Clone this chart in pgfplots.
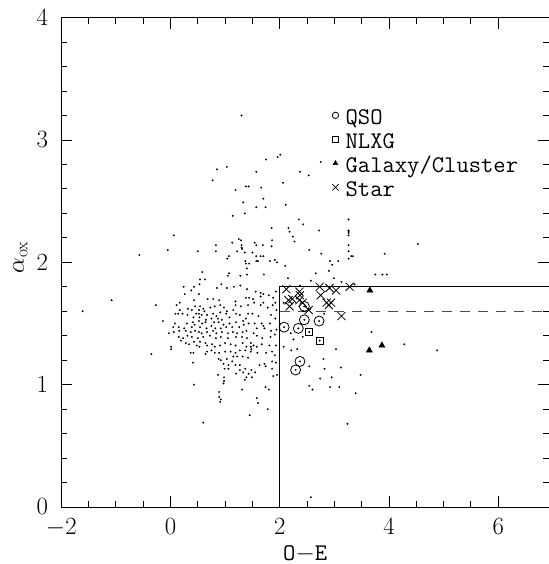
\documentclass[border=0pt]{standalone}
\usepackage{pgfplots}
\pgfplotsset{compat=1.18}
\pgfplotsset{/pgfplots/legmark/.style={legend image code/.code={\draw[##1, mark size=#1] plot coordinates {(0bp,3.5bp)};}}}
\pgfplotstableread{
x y
2.01 2.88
1.96 2.86
1.75 2.84
1.03 2.78
0.85 2.76
1.57 2.74
0.77 2.67
1.38 2.62
1.43 2.62
1.19 2.59
1.66 2.61
1.70 2.52
1.33 2.49
1.57 2.45
1.74 2.45
1.36 2.40
1.14 2.38
1.85 2.28
0.06 2.22
1.86 2.18
0.83 2.14
-0.05 2.10
0.50 2.09
0.83 2.09
-0.57 2.06
1.13 2.16
1.25 2.19
1.29 2.18
1.30 2.14
1.30 2.12
1.31 2.11
1.54 2.16
1.57 2.14
1.69 2.14
1.85 2.13
1.22 2.09
1.36 2.08
1.50 2.08
1.57 2.05
1.65 2.05
1.70 2.05
1.07 2.05
1.04 2.03
1.37 2.01
1.57 2.01
1.60 2.01
1.82 2.01
1.91 2.02
1.95 2.00
1.38 1.99
1.44 1.99
1.40 1.95
0.58 1.92
1.07 1.91
1.05 1.89
1.28 1.89
1.40 1.90
1.71 1.90
0.54 1.86
0.63 1.86
0.24 1.80
0.38 1.77
0.43 1.80
0.53 1.82
0.85 1.79
0.93 1.82
1.03 1.79
1.16 1.80
1.28 1.81
1.40 1.78
0.26 1.74
0.52 1.74
1.56 1.76
1.65 1.75
1.70 1.74
1.80 1.73
0.68 1.70
0.78 1.70
1.38 1.71
1.44 1.71
1.51 1.70
1.65 1.72
1.93 1.76
1.88 1.71
1.19 1.68
0.43 1.69
0.89 1.69
0.17 1.67
0.11 1.65
0.45 1.64
0.54 1.64
0.60 1.62
0.73 1.63
0.81 1.64
0.91 1.65
0.98 1.63
1.19 1.65
1.29 1.64
1.42 1.65
1.53 1.67
1.65 1.65
1.70 1.67
1.78 1.63
1.87 1.65
1.92 1.67
1.94 1.61
0.17 1.61
0.32 1.62
0.39 1.61
0.52 1.61
0.62 1.60
1.03 1.60
1.15 1.61
0.09 1.58
0.14 1.58
0.22 1.58
0.31 1.57
0.47 1.58
0.52 1.58
0.57 1.57
0.67 1.57
0.78 1.58
0.84 1.56
0.91 1.59
1.02 1.58
1.20 1.58
1.27 1.57
1.42 1.58
1.50 1.58
1.61 1.56
1.84 1.57
1.92 1.54
0.42 1.55
0.53 1.55
0.65 1.53
0.75 1.54
0.87 1.54
0.94 1.53
1.08 1.55
1.38 1.54
-0.14 1.52
0.08 1.50
0.30 1.50
0.41 1.51
0.44 1.49
0.52 1.52
0.58 1.50
0.64 1.51
0.80 1.51
0.88 1.51
0.97 1.49
1.08 1.50
1.20 1.51
1.33 1.52
1.43 1.50
1.54 1.50
1.67 1.50
1.70 1.48
1.82 1.50
0.05 1.47
0.15 1.47
0.25 1.46
0.39 1.47
0.54 1.47
0.66 1.46
0.75 1.48
0.82 1.46
0.92 1.46
1.02 1.47
1.13 1.47
1.26 1.47
1.34 1.49
1.58 1.46
1.72 1.46
-0.03 1.42
0.06 1.43
0.16 1.44
0.28 1.44
0.37 1.43
0.45 1.44
0.52 1.43
0.57 1.42
0.67 1.43
0.78 1.44
0.84 1.42
0.94 1.43
1.05 1.42
1.14 1.43
1.22 1.42
1.32 1.43
1.39 1.44
1.52 1.42
1.84 1.44
1.91 1.41
1.94 1.45
0.15 1.39
0.23 1.38
0.31 1.40
0.39 1.39
0.50 1.38
0.60 1.39
0.72 1.40
0.83 1.38
0.92 1.39
1.05 1.38
1.20 1.39
1.31 1.39
1.40 1.38
1.58 1.40
1.68 1.38
1.83 1.39
0.01 1.31
0.01 1.29
0.19 1.36
0.28 1.34
0.43 1.35
0.48 1.32
0.53 1.31
0.64 1.34
0.67 1.32
0.76 1.33
0.81 1.31
0.91 1.32
1.00 1.34
1.10 1.33
1.19 1.32
1.32 1.34
1.39 1.31
1.47 1.34
1.47 1.31
1.48 1.29
1.52 1.32
1.58 1.31
1.67 1.33
1.81 1.32
1.93 1.32
0.34 1.33
0.54 1.35
0.37 1.26
0.42 1.26
0.64 1.25
0.67 1.27
0.75 1.28
0.81 1.26
0.89 1.26
1.00 1.27
1.10 1.27
1.19 1.26
1.27 1.28
1.37 1.28
1.47 1.27
1.59 1.26
1.75 1.26
1.86 1.27
1.91 1.24
-0.35 1.25
1.15 1.23
1.22 1.23
1.32 1.23
1.42 1.22
0.92 1.20
0.88 1.21
1.03 1.21
1.13 1.19
0.41 1.18
0.97 1.17
1.06 1.16
1.19 1.16
1.27 1.16
1.37 1.13
1.48 1.12
1.55 1.10
1.63 1.16
1.72 1.17
1.86 1.19
1.93 1.18
1.06 1.13
1.27 1.12
1.33 1.10
0.99 1.13
1.43 1.09
1.74 1.15
1.86 1.13
0.87 1.08
0.98 1.06
1.39 1.06
1.49 1.06
1.88 1.07
1.20 1.09
1.95 1.08
0.98 1.03
0.97 1.01
1.36 1.04
0.43 1.00
1.74 0.98
1.31 0.96
0.89 0.94
0.89 0.90
1.80 0.96
0.92 0.88
0.91 0.86
1.58 0.89
1.60 0.85
1.78 0.80
1.45 0.75
0.60 0.69
-1.08 1.69
-0.27 1.65
-1.61 1.60
1.30 3.20
2.75 2.82
2.37 2.74
2.53 2.71
2.06 2.65
2.11 2.47
2.35 2.35
2.43 2.31
2.72 2.26
2.16 2.28
2.18 2.25
2.24 2.21
2.27 2.17
2.54 2.10
2.76 2.07
2.10 1.97
3.26 2.35
3.26 2.26
3.26 2.25
3.26 2.24
3.26 2.22
3.26 2.14
3.26 2.09
3.26 2.03
3.31 2.05
3.34 2.05
2.92 2.01
2.96 1.98
3.07 2.01
2.90 1.93
2.99 1.87
2.66 1.91
2.15 1.87
3.92 2.07
4.53 2.15
3.75 1.90
3.88 1.90
3.96 1.90
2.57 1.85
2.37 1.81
3.13 1.84
3.37 1.82
2.07 1.67
2.56 1.62
2.43 1.60
2.81 1.58
2.20 1.42
2.25 1.37
2.42 1.39
2.07 1.31
2.21 1.28
2.32 1.29
3.03 1.29
2.80 1.21
2.54 1.15
2.82 1.13
2.74 1.05
2.95 1.06
3.12 1.14
3.48 1.08
3.68 1.43
2.54 0.99
3.09 0.98
2.60 0.96
2.92 0.98
3.39 0.93
3.24 0.68
2.57 0.08
4.28 1.33
4.88 1.28
2.45 1.64
2.45 1.53
2.72 1.52
2.08 1.47
2.34 1.46
2.37 1.19
2.29 1.12
2.54 1.43
2.73 1.36
}\dotsdata
\pgfplotstableread{
x y
2.45 1.64
2.45 1.53
2.72 1.52
2.08 1.47
2.34 1.46
2.37 1.19
2.29 1.12
}\qsodata
\pgfplotstableread{
x y
2.54 1.43
2.73 1.36
}\nlxgdata
\pgfplotstableread{
x y
3.65 1.77
3.64 1.28
3.87 1.32
}\galaxydata
\pgfplotstableread{
x y
2.12 1.78
2.36 1.76
2.37 1.73
2.73 1.80
2.91 1.79
3.03 1.77
3.28 1.80
2.75 1.73
2.16 1.69
2.23 1.70
2.36 1.69
2.18 1.64
2.42 1.67
2.86 1.67
2.94 1.67
2.90 1.65
2.53 1.61
3.13 1.56
}\stardata
\begin{document}
\begin{tikzpicture}
\begin{axis}[
  name=ax,
  scale only axis, width=487.7bp, height=489.4bp,
  xmin=-2, xmax=6.93, ymin=0, ymax=4,
  xtick={-2,0,2,4,6}, ytick={0,1,2,3,4},
  minor x tick num=3, minor y tick num=4,
  tick align=inside, xtick pos=both, ytick pos=both,
  major tick length=11bp, minor tick length=6bp,
  every tick/.style={black, line width=0.9bp},
  axis line style={line width=1bp},
  tick label style={font=\fontsize{23}{27}\selectfont, inner sep=0pt},
  xticklabel style={yshift=-11bp},
  yticklabel style={xshift=-13bp},
  xlabel={O$-$E}, ylabel={$\alpha_{\mathrm{ox}}$},
  label style={font=\fontsize{24}{28}\selectfont\ttfamily},
  xlabel style={at={(axis description cs:0.5,0)}, anchor=north, yshift=-38bp, inner sep=0pt},
  ylabel style={at={(axis description cs:0,0.51)}, anchor=center, yshift=41bp, inner sep=0pt,
    font=\fontsize{23}{27}\selectfont},
  legend style={at={(axis cs:2.958,3.26)}, anchor=north west, draw=none, fill=none,
    inner sep=0pt, font=\fontsize{24}{28}\selectfont\ttfamily, row sep=3bp, column sep=7bp,
    nodes={inner sep=0pt, text height=16bp, text depth=5bp}},
  legend cell align=left,
]
\addplot[only marks, mark=*, mark size=0.85bp, mark options={fill=black, draw=black, line width=0.2bp}, forget plot] table {\dotsdata};
\addplot[black, line width=1bp, forget plot] coordinates {(2,0) (2,1.8) (7,1.8)};
\addplot[black!70, line width=1bp, dash pattern=on 10bp off 8bp, forget plot] coordinates {(2,1.6) (7,1.6)};
\addplot[only marks, mark=o, mark size=5bp, mark options={line width=0.8bp}, legmark=3.2bp] table {\qsodata};
\addlegendentry{QSO}
\addplot[only marks, mark=square, mark size=3.5bp, mark options={line width=0.8bp}, legmark=3bp] table {\nlxgdata};
\addlegendentry{NLXG}
\addplot[only marks, mark=triangle*, mark size=3.5bp, mark options={fill=black, line width=0.5bp}, legmark=2.8bp] table {\galaxydata};
\addlegendentry{Galaxy/Cluster}
\addplot[only marks, mark=x, mark size=5.7bp, mark options={line width=0.8bp}, legmark=4.5bp] table {\stardata};
\addlegendentry{Star}
\end{axis}
\pgfresetboundingbox
\path[use as bounding box] (ax.south west) ++(-61.3bp,-57bp) rectangle ++(549bp,564bp);
\end{tikzpicture}
\end{document}
